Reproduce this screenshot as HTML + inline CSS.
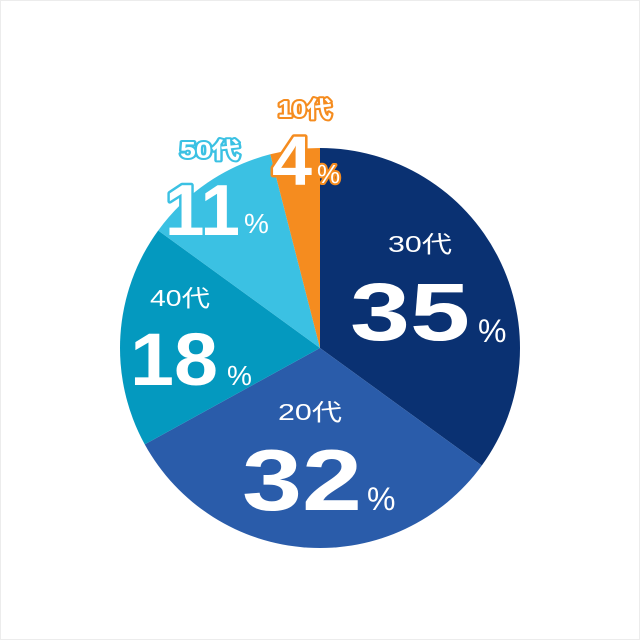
<!DOCTYPE html>
<html><head><meta charset="utf-8"><style>
html,body{margin:0;padding:0;background:#fff}
svg{display:block}
text{font-family:"Liberation Sans","Noto Sans CJK JP",sans-serif}
</style></head><body>
<svg id="chart" width="640" height="640" viewBox="0 0 640 640">
<rect x="0.5" y="0.5" width="639" height="639" fill="#fff" stroke="#ececec"/>
<g id="slices"></g>
<g id="labels"></g>
</svg>
<script>
const categories = ["30代","20代","40代","50代","10代"];
const values = [35,32,18,11,4];
const colors = ["#0a3172","#2a5caa","#0499bf","#3bc1e3","#f58c1f"];
// layout: [labelCx, labelBase, labelW, numX, numBase, numW, numSize, pctX, pctBase, pctSize, outside]
const layout = [
 [420,252,64, 350,340,120,82, 478,342,32,0],
 [310,420,64, 242,510,120,86, 367,510,32,0],
 [180,306,60, 130,385,88,74, 227,385,28,0],
 [210,158,60, 165,235,75,72, 244,233,28,1],
 [305,117,54, 272,185,40,70, 317,183,26,1]
];
const cx=320, cy=348, r=200;
const ns="http://www.w3.org/2000/svg";
const total = values.reduce((a,b)=>a+b,0);
const sg=document.getElementById('slices'), lg=document.getElementById('labels');
function pt(a){return [cx+r*Math.sin(a), cy-r*Math.cos(a)];}
function outline(el,c,w){el.setAttribute('stroke',c);el.setAttribute('stroke-width',w);el.setAttribute('paint-order','stroke');el.setAttribute('stroke-linejoin','round');}
let acc=0;
values.forEach((v,i)=>{
  const a0=acc/total*2*Math.PI; acc+=v; const a1=acc/total*2*Math.PI;
  const p0=pt(a0), p1=pt(a1);
  const p=document.createElementNS(ns,'path');
  p.setAttribute('d',`M${cx},${cy}L${p0[0]},${p0[1]}A${r},${r} 0 ${a1-a0>Math.PI?1:0} 1 ${p1[0]},${p1[1]}Z`);
  p.setAttribute('fill',colors[i]);
  
  
  sg.appendChild(p);
  const L=layout[i], outside=L[10];
  const t=document.createElementNS(ns,'text');
  t.setAttribute('x',L[0]-L[2]/2);t.setAttribute('y',L[1]);
  t.setAttribute('textLength',L[2]);t.setAttribute('lengthAdjust','spacingAndGlyphs');
  t.setAttribute('font-size','23');t.setAttribute('fill','#fff');
  if(outside){outline(t,colors[i],4);t.setAttribute('font-weight','bold');}
  t.textContent=categories[i];
  
  
  lg.appendChild(t);
  const n=document.createElementNS(ns,'text');
  n.setAttribute('x',L[3]);n.setAttribute('y',L[4]);
  n.setAttribute('textLength',L[5]);n.setAttribute('lengthAdjust','spacingAndGlyphs');
  n.setAttribute('font-size',L[6]);n.setAttribute('font-weight','bold');n.setAttribute('fill','#fff');
  if(outside) outline(n,colors[i],5);
  n.textContent=values[i];
  
  
  lg.appendChild(n);
  const pc=document.createElementNS(ns,'text');
  pc.setAttribute('x',L[7]);pc.setAttribute('y',L[8]);
  pc.setAttribute('font-size',L[9]);pc.setAttribute('fill','#fff');
  if(outside) outline(pc,colors[i],4);
  pc.textContent='%';
  
  
  lg.appendChild(pc);
});
</script>
</body></html>
